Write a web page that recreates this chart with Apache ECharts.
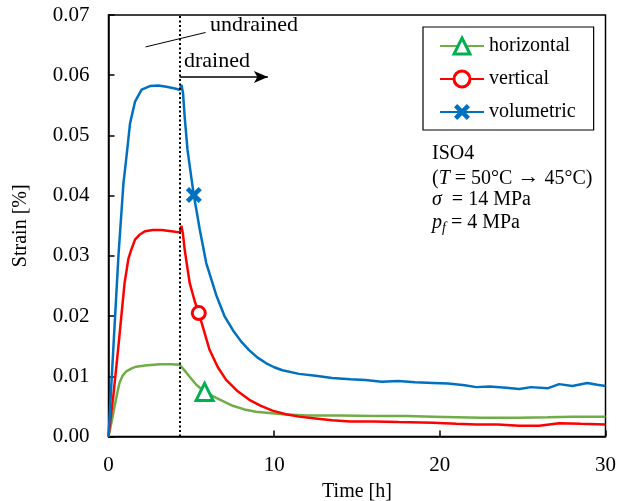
<!DOCTYPE html>
<html><head><meta charset="utf-8">
<script src="https://cdn.jsdelivr.net/npm/echarts@6/dist/echarts.min.js"></script>
<style>html,body{margin:0;padding:0;background:#fff}#c{width:631px;height:501px}</style>
</head><body><div id="c"></div>
<script>
// ---- data ----
const seriesNames = ['horizontal', 'vertical', 'volumetric'];

const horT = [0,0.25,0.45,0.66,0.85,1.07,1.4,1.67,2.2,3.1,3.8,4.3,4.7,5.0,5.3,5.8,6.5,7.5,8.2,8.9,9.7,10.5,12,14,16,18,19.6,21,22.5,24.8,26.5,28,30];
const horV = [0,0.0033,0.0062,0.0089,0.0101,0.0108,0.0113,0.0116,0.0118,0.0120,0.0120,0.0119,0.0106,0.0096,0.0086,0.0074,0.0064,0.0051,0.0045,0.0041,0.0039,0.0037,0.0035,0.0035,0.0034,0.0034,0.0033,0.0032,0.0031,0.0031,0.0032,0.0033,0.0033];

const verT = [0,0.3,0.6,0.97,1.2,1.37,1.6,1.87,2.2,2.67,3.2,3.8,4.3,4.4,4.5,4.6,4.9,5.2,5.45,5.8,6.1,6.6,7.1,7.8,8.5,9.2,9.9,10.7,11.5,12.5,13.5,14.6,16,17.5,19.6,21,22.2,23.5,24.8,26,27.2,28.5,30];
const verV = [0,0.007,0.015,0.0255,0.0295,0.031,0.0327,0.0335,0.0341,0.0343,0.0343,0.0341,0.0339,0.0350,0.0335,0.0310,0.0255,0.0225,0.0205,0.0172,0.0144,0.0115,0.0094,0.0075,0.0061,0.0051,0.0043,0.0037,0.0033,0.0030,0.0027,0.0025,0.0025,0.0024,0.0023,0.0021,0.0020,0.0020,0.0018,0.0018,0.0022,0.0021,0.0020];

const volT = [0,0.3,0.6,0.9,1.13,1.3,1.6,2.0,2.5,3.0,3.5,4.0,4.3,4.4,4.5,4.6,4.77,5.0,5.15,5.5,5.9,6.5,7.0,7.5,8.0,8.5,9.0,9.5,10,10.5,11.5,12.5,13.5,14.6,15.5,16.5,17.5,18.5,19.6,20.5,21.5,22.2,23,24,24.8,25.5,26.5,27.2,28,28.9,29.5,30];
const volV = [0,0.015,0.030,0.042,0.0476,0.052,0.0556,0.0576,0.0582,0.0583,0.0581,0.0578,0.0576,0.0584,0.0570,0.0530,0.0476,0.0430,0.0401,0.0345,0.0288,0.0235,0.0200,0.0177,0.0158,0.0143,0.0131,0.0122,0.0115,0.0110,0.0104,0.0101,0.0097,0.0095,0.0094,0.0091,0.0092,0.0090,0.0089,0.0088,0.0085,0.0082,0.0083,0.0081,0.0079,0.0082,0.0080,0.0087,0.0084,0.0089,0.0086,0.0084];

const markerT = [5.8, 5.45, 5.15];
const markerV = [0.0074, 0.0205, 0.0401];

const xTicks = [0, 10, 20, 30];
const yTicks = [0, 0.01, 0.02, 0.03, 0.04, 0.05, 0.06, 0.07];

const switchTime = 4.3;          // undrained -> drained
const arrowV = 0.0597, arrowEndT = 9.62;
const pointerLine = [[2.24, 0.0647], [5.86, 0.0671]];

// ---- chart ----
const pair = (t, v) => t.map((x, i) => [x, v[i]]);
const serif = 'Liberation Serif';
const xPath = 'path://M2,0 L5,3 L8,0 L10,2 L7,5 L10,8 L8,10 L5,7 L2,10 L0,8 L3,5 L0,2 Z';

const chart = echarts.init(document.getElementById('c'), null, {renderer: 'canvas'});
chart.setOption({
  animation: false,
  backgroundColor: '#fff',
  textStyle: {fontFamily: serif, color: '#000'},
  grid: {left: 108.5, right: 25.5, top: 15, bottom: 64.5, show: true, borderColor: '#000', borderWidth: 1.5, outerBoundsMode: 'none'},
  xAxis: {
    type: 'value', min: xTicks[0], max: xTicks[xTicks.length - 1], interval: 10,
    name: 'Time [h]', nameLocation: 'middle', nameGap: 45,
    nameTextStyle: {fontFamily: serif, fontSize: 20, color: '#000'},
    axisLine: {show: true, lineStyle: {color: '#000', width: 1.5}},
    axisTick: {show: true, inside: true, length: 6, lineStyle: {color: '#000', width: 1.5}},
    axisLabel: {fontFamily: serif, fontSize: 21, color: '#000', margin: 18},
    splitLine: {show: false}
  },
  yAxis: {
    type: 'value', min: yTicks[0], max: yTicks[yTicks.length - 1], interval: 0.01,
    name: 'Strain [%]', nameLocation: 'middle', nameGap: 78, nameRotate: 90,
    nameTextStyle: {fontFamily: serif, fontSize: 20, color: '#000'},
    axisLine: {show: true, lineStyle: {color: '#000', width: 1.5}},
    axisTick: {show: true, inside: true, length: 6, lineStyle: {color: '#000', width: 1.5}},
    axisLabel: {fontFamily: serif, fontSize: 21, color: '#000', margin: 19, formatter: v => v.toFixed(2)},
    splitLine: {show: false}
  },
  legend: {
    orient: 'vertical', left: 423, top: 27,
    padding: [9, 18, 8, 16], itemGap: 13, itemWidth: 44, itemHeight: 20, itemTextGap: 5,
    borderColor: '#000', borderWidth: 1.2, backgroundColor: '#fff',
    textStyle: {fontFamily: serif, fontSize: 20, color: '#000'},
    data: [
      {name: seriesNames[0], itemStyle: {borderWidth: 3}},
      {name: seriesNames[1], itemStyle: {borderWidth: 3}},
      {name: seriesNames[2], itemStyle: {borderWidth: 0}}
    ]
  },
  graphic: [
    {type: 'text', left: 210, top: 14, style: {text: 'undrained', font: '22px "Liberation Serif"', fill: '#000'}},
    {type: 'text', left: 184, top: 50, style: {text: 'drained', font: '22px "Liberation Serif"', fill: '#000'}},
    {type: 'text', left: 432, top: 144, style: {text: 'ISO4', font: '20px "Liberation Serif"', fill: '#000'}},
    {type: 'text', left: 432, top: 166, style: {text: '({i|T} = 50°C {a|→} 45°C)', font: '20px "Liberation Serif"', fill: '#000',
      rich: {i: {fontStyle: 'italic', fontFamily: serif, fontSize: 20}, a: {fontFamily: serif, fontSize: 22, padding: [0, 0, 3, 0]}}}},
    {type: 'text', left: 432, top: 190, style: {text: '{i|σ}  = 14 MPa', font: '20px "Liberation Serif"', fill: '#000',
      rich: {i: {fontStyle: 'italic', fontFamily: serif, fontSize: 20}}}},
    {type: 'text', left: 432, top: 213, style: {text: '{i|p}{s|f} = 4 MPa', font: '20px "Liberation Serif"', fill: '#000',
      rich: {i: {fontStyle: 'italic', fontFamily: serif, fontSize: 20}, s: {fontStyle: 'italic', fontFamily: serif, fontSize: 14, padding: [10, 0, 0, 0]}}}}
  ],
  series: [
    {
      name: seriesNames[0], type: 'line', data: pair(horT, horV), showSymbol: false,
      symbol: 'triangle', symbolSize: 17,
      lineStyle: {color: '#70AD47', width: 2.5},
      itemStyle: {color: '#fff', borderColor: '#00B050', borderWidth: 3},
      markPoint: {silent: true, symbol: 'triangle', symbolSize: 17, label: {show: false},
        itemStyle: {color: '#fff', borderColor: '#00B050', borderWidth: 3},
        data: [{coord: [markerT[0], markerV[0]]}]}
    },
    {
      name: seriesNames[1], type: 'line', data: pair(verT, verV), showSymbol: false,
      symbol: 'circle', symbolSize: 13,
      lineStyle: {color: '#FF0000', width: 2.5},
      itemStyle: {color: '#fff', borderColor: '#FF0000', borderWidth: 3},
      markPoint: {silent: true, symbol: 'circle', symbolSize: 13, label: {show: false},
        itemStyle: {color: '#fff', borderColor: '#FF0000', borderWidth: 3},
        data: [{coord: [markerT[1], markerV[1]]}]}
    },
    {
      name: seriesNames[2], type: 'line', data: pair(volT, volV), showSymbol: false,
      symbol: xPath, symbolSize: 16,
      lineStyle: {color: '#0070C0', width: 2.5},
      itemStyle: {color: '#0070C0'},
      markPoint: {silent: true, symbol: xPath, symbolSize: 16, label: {show: false},
        itemStyle: {color: '#0070C0'},
        data: [{coord: [markerT[2], markerV[2]]}]},
      markLine: {
        silent: true, animation: false, label: {show: false},
        data: [
          [{coord: [switchTime, yTicks[0]], symbol: 'none', lineStyle: {color: '#000', width: 2, type: [2, 2.5]}},
           {coord: [switchTime, yTicks[yTicks.length - 1]], symbol: 'none'}],
          [{coord: [switchTime, arrowV], symbol: 'none', lineStyle: {color: '#000', width: 1.5, type: 'solid'}},
           {coord: [arrowEndT, arrowV], symbol: 'arrow', symbolSize: [9, 14]}],
          [{coord: pointerLine[0], symbol: 'none', lineStyle: {color: '#000', width: 1, type: 'solid'}},
           {coord: pointerLine[1], symbol: 'none'}]
        ]
      }
    }
  ]
});
</script></body></html>
